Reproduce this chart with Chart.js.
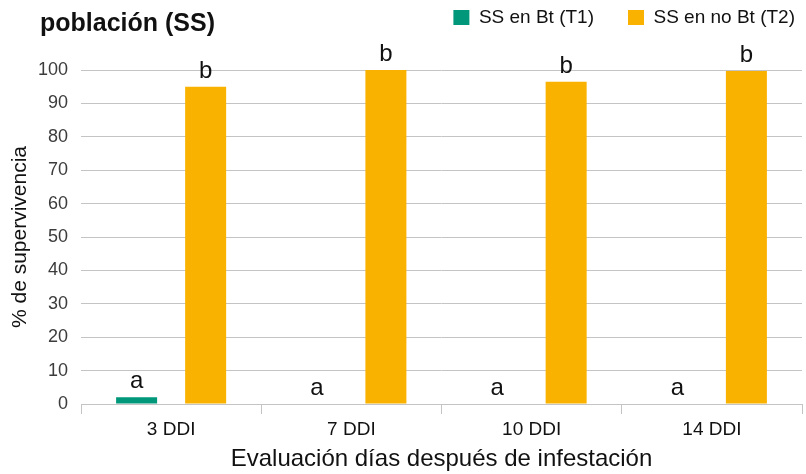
<!DOCTYPE html>
<html>
<head>
<meta charset="utf-8">
<script src="https://cdn.jsdelivr.net/npm/chart.js@4.4.1/dist/chart.umd.min.js"></script>
<style>
  html, body { margin: 0; padding: 0; background: #fff; }
  #wrap { width: 806px; height: 474px; position: relative; }
</style>
</head>
<body>
<div id="wrap"><canvas id="myChart"></canvas></div>
<script>
const categories = ['3 DDI', '7 DDI', '10 DDI', '14 DDI'];
const seriesNames = ['SS en Bt (T1)', 'SS en no Bt (T2)'];
const btValues = [2, 0, 0, 0];
const noBtValues = [95, 100, 96.5, 99.7];
const btLetters = ['a', 'a', 'a', 'a'];
const noBtLetters = ['b', 'b', 'b', 'b'];
const yMin = 0;
const yMax = 100;
const yStep = 10;

const fontFamily = '"Liberation Sans", Arial, Helvetica, sans-serif';
const green = '#00977a';
const orange = '#fab200';
const gridColor = '#c4c4c4';

// letters over each bar, placed from the bar elements
const letterPlugin = {
  id: 'letters',
  afterDatasetsDraw(chart) {
    const letters = [btLetters, noBtLetters];
    const c = chart.ctx;
    c.save();
    c.font = '24px ' + fontFamily;
    c.fillStyle = '#111';
    c.textAlign = 'center';
    c.textBaseline = 'alphabetic';
    chart.data.datasets.forEach((ds, i) => {
      chart.getDatasetMeta(i).data.forEach((bar, j) => {
        c.fillText(letters[i][j], bar.x, bar.y - 9);
      });
    });
    c.restore();
  }
};

// bold heading at the top left (first line is cut off in the original)
const headingPlugin = {
  id: 'heading',
  afterDraw(chart) {
    const c = chart.ctx;
    c.save();
    c.font = 'bold 25px ' + fontFamily;
    c.fillStyle = '#111';
    c.textAlign = 'left';
    c.textBaseline = 'alphabetic';
    c.fillText('población (SS)', 40, 31);
    c.restore();
  }
};

// move the legend onto the heading row, flush right
const legendShift = {
  id: 'legendShift',
  afterLayout(chart) {
    const lg = chart.legend;
    if (!lg) return;
    lg.top -= 33; lg.bottom -= 33;
    lg.left += 27; lg.right += 27;
  }
};

const ctx = document.getElementById('myChart').getContext('2d');
new Chart(ctx, {
  type: 'bar',
  data: {
    labels: categories,
    datasets: [
      { label: seriesNames[0], data: btValues, backgroundColor: green },
      { label: seriesNames[1], data: noBtValues, backgroundColor: orange }
    ]
  },
  options: {
    responsive: true,
    maintainAspectRatio: false,
    animation: false,
    categoryPercentage: 0.766,
    barPercentage: 0.594,
    layout: { padding: { top: 7, right: 4, left: 0, bottom: 0 } },
    plugins: {
      legend: {
        position: 'top',
        align: 'end',
        labels: {
          boxWidth: 16,
          boxHeight: 15,
          padding: 34,
          color: '#111',
          font: { family: fontFamily, size: 19 }
        }
      },
      tooltip: { enabled: false }
    },
    scales: {
      x: {
        afterFit(scale) { scale.height = 70; },
        grid: {
          offset: true,
          drawOnChartArea: false,
          drawTicks: true,
          tickLength: 10,
          color: gridColor
        },
        border: { display: true, color: gridColor },
        ticks: {
          color: '#111',
          padding: 4,
          font: { family: fontFamily, size: 19 }
        },
        title: {
          display: true,
          text: 'Evaluación días después de infestación',
          color: '#111',
          padding: { top: 0, bottom: 0 },
          font: { family: fontFamily, size: 24, lineHeight: 1.25 }
        }
      },
      y: {
        min: yMin,
        max: yMax,
        afterFit(scale) { scale.width = 81; },
        grid: { color: gridColor, drawTicks: false },
        border: { display: false },
        ticks: {
          stepSize: yStep,
          color: '#3c3c3c',
          padding: 13,
          font: { family: fontFamily, size: 18 }
        },
        title: {
          display: true,
          text: '% de supervivencia',
          color: '#111',
          padding: { top: 8, bottom: 0 },
          font: { family: fontFamily, size: 21 }
        }
      }
    }
  },
  plugins: [letterPlugin, headingPlugin, legendShift]
});
</script>
</body>
</html>
